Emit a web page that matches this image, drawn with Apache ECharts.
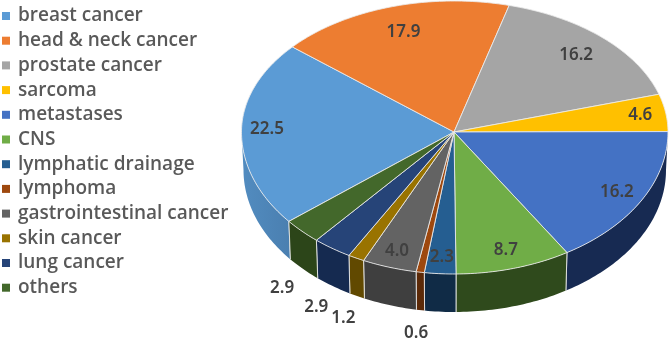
<!DOCTYPE html>
<html><head><meta charset="utf-8">
<style>html,body{margin:0;padding:0;background:#fff}#c{width:669px;height:340px}</style>
<script src="https://cdn.jsdelivr.net/npm/echarts@6/dist/echarts.min.js"></script>
</head><body><div id="c"></div>
<script>
const categories = ['breast cancer','head & neck cancer','prostate cancer','sarcoma','metastases','CNS','lymphatic drainage','lymphoma','gastrointestinal cancer','skin cancer','lung cancer','others'];
const values = [22.5,17.9,16.2,4.6,16.2,8.7,2.3,0.6,4.0,1.2,2.9,2.9];
const topColors = ['#5B9BD5','#ED7D31','#A5A5A5','#FFC000','#4472C4','#70AD47','#255E91','#9E480E','#636363','#997300','#264478','#43682B'];
const wallColors = ['#4a80b0','#8c4a1d','#626262','#977200','#172a52','#2f4a1c','#102b46','#5c2a08','#3f3f3f','#614900','#152a50','#2c4519'];
const outsideLabels = ['lymphoma','skin cancer','lung cancer','others'];
const labelRatios = [0.88,0.8,0.82,0.88,0.87,0.87,0.88,1.12,0.88,1.13,1.13,1.13];

const cx = 454, cy = 132, rxRight = 214, rxLeft = 212.5, ryTop = 131, ryBottom = 142, depth = 38, labelDrop = 44, startAngle = 139.5;
const total = values.reduce((a,b)=>a+b,0);
const starts = []; values.reduce((acc,v,i)=>{starts[i]=acc; return acc+v/total*360;}, startAngle);
// perspective of the tilted disc: slices in the near-left quadrant are drawn slightly further round
const warp = deg => { const d = ((deg%360)+360)%360; return (d>90 && d<220) ? d + 1.6*Math.sin(Math.PI*(d-90)/130) : d; };
const rim = (deg, k=1, dy=0, shrink=0) => {
  const a = warp(deg)*Math.PI/180, s = Math.sin(a), c = Math.cos(a);
  return [cx + k*((c>=0?rxRight:rxLeft)-shrink)*c, cy + dy + k*(s>=0?ryBottom:ryTop)*s];
};
const arc = (a0,a1,fn) => { const n = Math.max(2,Math.ceil(Math.abs(a1-a0))); const out=[]; for(let i=0;i<=n;i++) out.push(fn(a0+(a1-a0)*i/n)); return out; };
const edge = 'rgba(235,235,235,0.85)';

function makeItem(i){
  return function(params, api){
    const v = api.value(0);
    const a0 = starts[i], a1 = a0 + v/total*360;
    const children = [];
    const pieces = [[Math.max(a0,360),Math.min(a1,538.5)],[Math.max(a0,0),Math.min(a1,178.5)]];
    pieces.forEach(([w0,w1])=>{
      if(w1<=w0) return;
      const upper = arc(w0,w1,d=>rim(d));
      const lower = arc(w1,w0,d=>rim(d,1,depth,2));
      const fill = i===0 ? new echarts.graphic.LinearGradient(0,0,1,0,[{offset:0,color:'#528cc0'},{offset:1,color:'#4a7fb0'}]) : wallColors[i];
      children.push({type:'polygon',shape:{points:upper.concat(lower)},style:{fill:fill}});
      [w0,w1].forEach(d=>{
        if(d===360||d===178.5||d===538.5) return;
        const p=rim(d), q=rim(d,1,depth,2);
        children.push({type:'line',shape:{x1:p[0],y1:p[1],x2:q[0],y2:q[1]},style:{stroke:edge,lineWidth:1}});
      });
    });
    children.push({type:'polygon',shape:{points:[[cx,cy]].concat(arc(a0,a1,d=>rim(d)))},
      style:{fill:topColors[i],stroke:edge,lineWidth:1},z2:5});
    return {type:'group',children:children};
  };
}
function labelItem(params, api){
  const i = api.value(1), v = values[i];
  const mid = starts[i] + v/total*180;
  const out = outsideLabels.includes(categories[i]);
  const p = rim(mid, labelRatios[i], out?labelDrop:0);
  return {type:'text',x:p[0],y:p[1],style:{text:v.toFixed(1),align:'center',verticalAlign:'middle',
    font:'600 17px "Noto Sans"',fill:'#404040'},z2:10};
}

const series = categories.map((name,i)=>({
  type:'custom',name:name,coordinateSystem:'none',renderItem:makeItem(i),
  data:[[values[i]]],itemStyle:{color:topColors[i]},animation:false,silent:true
}));
series.push({type:'custom',name:'labels',coordinateSystem:'none',renderItem:labelItem,
  data:values.map((v,i)=>[v,i]),animation:false,silent:true,z:10});

const chart = echarts.init(document.getElementById('c'),null,{renderer:'canvas'});
chart.setOption({
  animation:false,
  tooltip:{show:false},
  legend:{show:true,orient:'vertical',left:2,top:6,data:categories,icon:'rect',itemWidth:8,itemHeight:8,itemGap:4.7,
    selectedMode:false,padding:0,itemStyle:{borderWidth:0},
    textStyle:{fontFamily:'Open Sans',fontSize:19,fontWeight:600,color:'#595959',lineHeight:20,height:20,padding:[0,0,0,3]}},
  series:series
});
</script></body></html>
